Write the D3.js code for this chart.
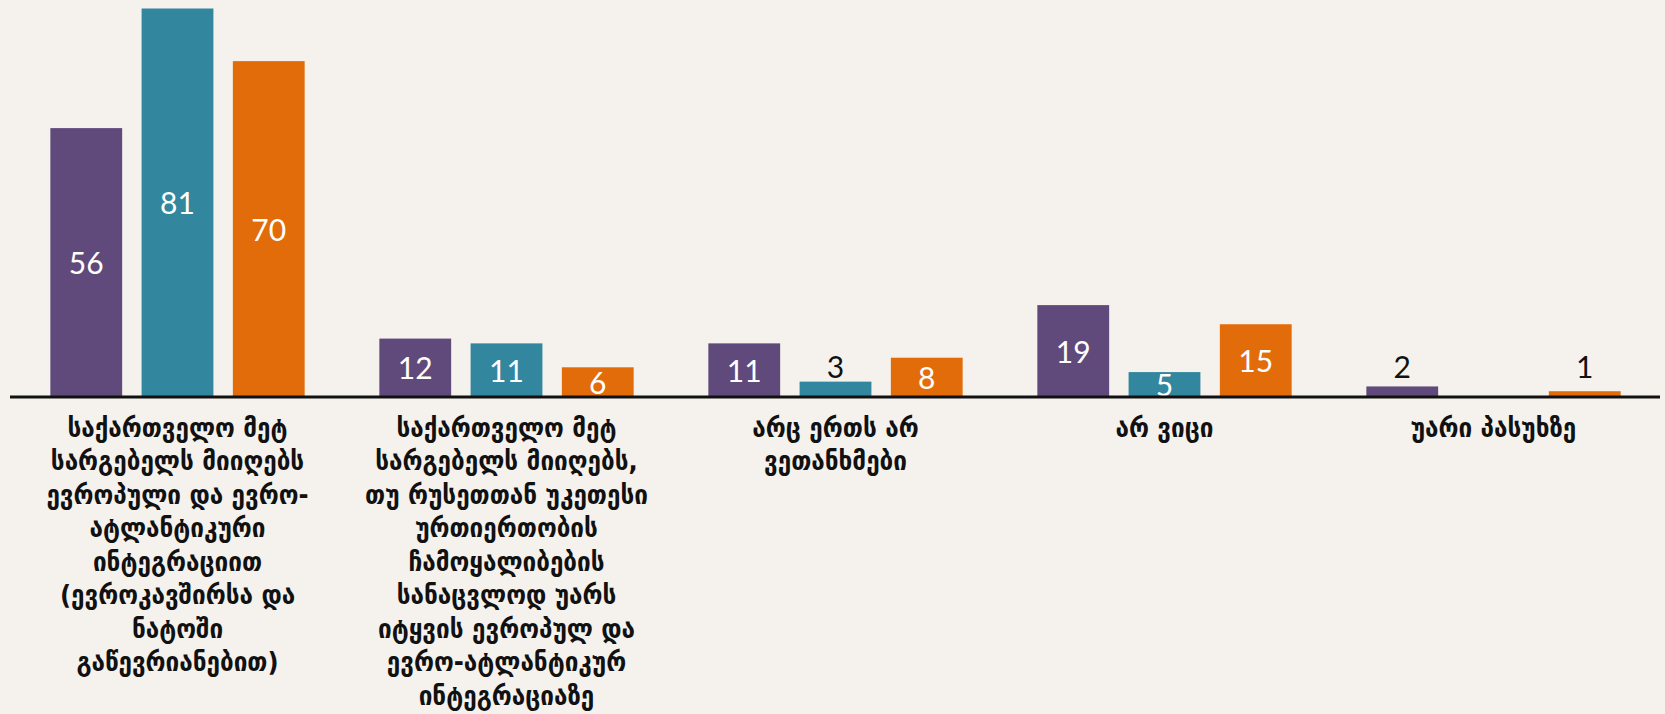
<!DOCTYPE html>
<html>
<head>
<meta charset="utf-8">
<script src="https://cdn.jsdelivr.net/npm/d3@7"></script>
<style>
  html, body { margin: 0; padding: 0; background: #F5F2ED; }
  svg { display: block; }
</style>
</head>
<body>
<svg id="chart" width="1665" height="714"></svg>
<script>
// Answer categories, each split into its printed lines
const categories = [
  ["საქართველო მეტ", "სარგებელს მიიღებს", "ევროპული და ევრო-", "ატლანტიკური", "ინტეგრაციით", "(ევროკავშირსა და", "ნატოში", "გაწევრიანებით)"],
  ["საქართველო მეტ", "სარგებელს მიიღებს,", "თუ რუსეთთან უკეთესი", "ურთიერთობის", "ჩამოყალიბების", "სანაცვლოდ უარს", "იტყვის ევროპულ და", "ევრო-ატლანტიკურ", "ინტეგრაციაზე"],
  ["არც ერთს არ", "ვეთანხმები"],
  ["არ ვიცი"],
  ["უარი პასუხზე"]
];

// Percentages for the three survey groups
const groupA = [56, 12, 11, 19, 2];
const groupB = [81, 11, 3, 5, 0];
const groupC = [70, 6, 8, 15, 1];

const seriesNames = ["groupA", "groupB", "groupC"];
const seriesValues = [groupA, groupB, groupC];
const seriesColors = ["#5F4A7B", "#32869E", "#E36C0A"];

const W = 1665, H = 714;
const baseY = 396, topY = 8.5;
const svg = d3.select("#chart");

svg.append("rect").attr("width", W).attr("height", H).attr("fill", "#F5F2ED");

const x0 = d3.scaleBand()
  .domain(d3.range(categories.length))
  .range([13, 1658])
  .paddingInner(0.227)
  .paddingOuter(0.1135);

const x1 = d3.scaleBand()
  .domain(seriesNames)
  .range([0, x0.bandwidth()])
  .paddingInner(0.213)
  .paddingOuter(0);

const maxV = d3.max(seriesValues.flat());
const y = d3.scaleLinear().domain([0, maxV]).range([baseY, topY]);

const color = d3.scaleOrdinal().domain(seriesNames).range(seriesColors);

const rows = categories.map((c, i) => ({
  i,
  values: seriesNames.map((s, k) => ({ key: s, value: seriesValues[k][i] }))
}));

const groups = svg.append("g").selectAll("g")
  .data(rows)
  .join("g")
  .attr("transform", d => `translate(${x0(d.i)},0)`);

groups.selectAll("rect")
  .data(d => d.values.filter(v => v.value > 0))
  .join("rect")
  .attr("x", d => x1(d.key))
  .attr("y", d => y(d.value))
  .attr("width", x1.bandwidth())
  .attr("height", d => y(0) - y(d.value))
  .attr("fill", d => color(d.key));

// Value labels: centred inside the bar, or above very short bars
groups.selectAll("text.val")
  .data(d => d.values.filter(v => v.value > 0))
  .join("text")
  .attr("class", "val")
  .attr("x", d => x1(d.key) + x1.bandwidth() / 2)
  .attr("y", d => d.value <= 3 ? y(0) - 30 : (y(d.value) + y(0)) / 2)
  .attr("text-anchor", "middle")
  .attr("dominant-baseline", "central")
  .attr("font-family", "Lato, 'Open Sans', sans-serif")
  .attr("font-size", 30)
  .attr("fill", d => d.value <= 3 ? "#111" : "#fff")
  .text(d => d.value);

// Baseline axis
const axis = d3.axisBottom(x0).tickSize(0).tickFormat("");
const axisG = svg.append("g")
  .attr("transform", `translate(0,${baseY + 1})`)
  .call(axis);
axisG.select(".domain")
  .attr("d", "M10,0H1660")
  .attr("stroke", "#111")
  .attr("stroke-width", 3);

// Category labels, line by line
axisG.selectAll(".tick").each(function(i) {
  const t = d3.select(this).append("text")
    .attr("text-anchor", "middle")
    .attr("font-family", "'DejaVu Sans Condensed', 'DejaVu Sans', sans-serif")
    .attr("font-stretch", "condensed")
    .attr("font-weight", "bold")
    .attr("font-size", 27)
    .attr("fill", "#111");
  categories[i].forEach((line, j) => {
    t.append("tspan")
      .attr("x", 0)
      .attr("y", 30 + j * 33.5)
      .attr("dominant-baseline", "central")
      .text(line);
  });
});
</script>
</body>
</html>
